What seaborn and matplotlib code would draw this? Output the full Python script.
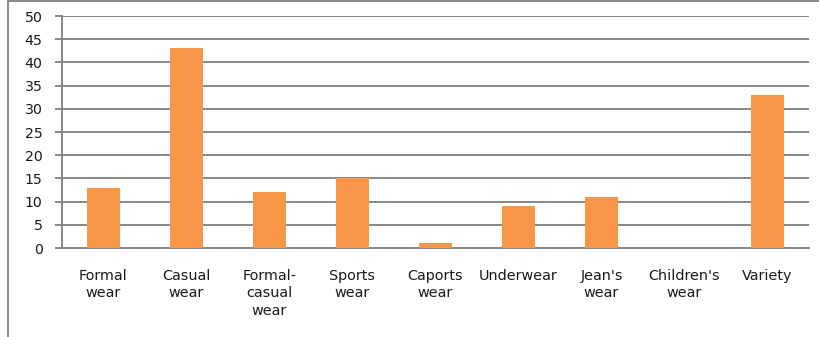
import matplotlib
matplotlib.use("Agg")
import matplotlib.pyplot as plt
import seaborn as sns
import pandas as pd
from matplotlib.patches import Rectangle

categories = ["Formal\nwear", "Casual\nwear", "Formal-\ncasual\nwear", "Sports\nwear",
              "Caports\nwear", "Underwear", "Jean's\nwear", "Children's\nwear", "Variety"]
values = [13, 43, 12, 15, 1, 9, 11, 0, 33]
y_ticks = [0, 5, 10, 15, 20, 25, 30, 35, 40, 45, 50]

sns.set_style("white")
plt.rcParams["font.family"] = ["DejaVu Sans"]

grid_color = "#878787"
bar_color = "#F79646"
text_color = "#1a1a1a"

df = pd.DataFrame({"category": categories, "value": values})

fig = plt.figure(figsize=(8.19, 3.37), dpi=100)
ax = fig.add_axes([62 / 819, 1 - 248 / 337, (809 - 62) / 819, (248 - 16) / 337])

sns.barplot(data=df, x="category", y="value", order=categories, color=bar_color,
            saturation=1, width=0.39, ax=ax, zorder=3, edgecolor="none", linewidth=0)

ax.set_ylim(0, 50)
ax.set_xlim(-0.5, len(categories) - 0.5)
ax.set_yticks(y_ticks)
ax.set_yticklabels([str(t) for t in y_ticks], fontsize=10.2, color=text_color)
ax.yaxis.grid(True, color=grid_color, linewidth=1.4, zorder=0)
ax.set_axisbelow(True)

# category labels at bar centres, tick marks on the category boundaries
ax.set_xticks(range(len(categories)))
ax.set_xticklabels(categories, fontsize=10.4, color=text_color, va="top",
                   linespacing=1.32)
ax.tick_params(axis="x", which="major", length=0, pad=15)
ax.set_xticks([i - 0.5 for i in range(len(categories) + 1)], minor=True)
ax.tick_params(axis="x", which="minor", length=4, width=1.4, color=grid_color,
               direction="out")
ax.tick_params(axis="y", length=5, width=1.4, color=grid_color, pad=9,
               direction="out", left=True)

ax.set_xlabel("")
ax.set_ylabel("")
for side in ["top", "right"]:
    ax.spines[side].set_visible(False)
for side in ["left", "bottom"]:
    ax.spines[side].set_color(grid_color)
    ax.spines[side].set_linewidth(1.4)

# outer chart-area frame
fig.patches.append(Rectangle((8 / 819, -0.05), 1.2, 1.05 - 0.5 / 337,
                             transform=fig.transFigure, fill=False,
                             edgecolor=grid_color, linewidth=1.4))

fig.savefig("out.png", dpi=100)
